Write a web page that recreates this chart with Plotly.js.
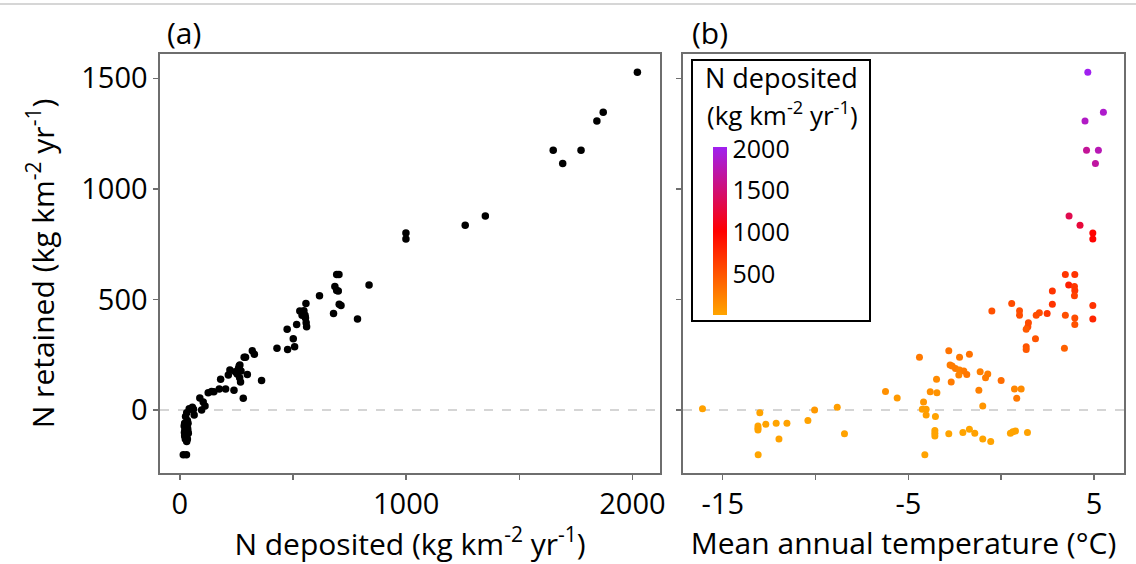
<!DOCTYPE html>
<html>
<head>
<meta charset="utf-8">
<script src="https://cdn.plot.ly/plotly-3.0.1.min.js"></script>
<style>html,body{margin:0;padding:0;background:#fff;}#chart{width:1136px;height:564px;}</style>
</head>
<body>
<div id="chart"></div>
<script>
// N deposited (kg km-2 yr-1), one value per site
const nDeposited = [2022,1871,1843,1650,1773,1692,1350,1261,999,999,
  693,703,836,685,693,700,617,557,704,712,548,530,545,679,550,553,540,555,785,558,516,560,474,501,507,429,476,
  320,329,284,290,265,262,259,221,270,245,253,298,214,264,180,361,268,202,174,239,140,150,125,88,280,103,111,55,41,50,60,96,
  30,63,25,33,21,36,28,19,34,24,31,22,35,27,20,32,26,37,23,29,34,21,33,24,30,15,29];
// N retained (kg km-2 yr-1)
const nRetained = [1527,1347,1307,1175,1175,1115,877,835,800,773,
  613,613,565,558,540,538,517,482,478,472,449,448,440,436,429,428,428,416,411,395,387,377,365,322,286,279,274,
  268,252,238,238,203,199,188,181,176,173,163,161,158,146,139,133,127,95,95,89,84,83,78,54,53,36,18,12,6,3,3,0,
  -12,-23,-30,-47,-60,-60,-65,-72,-83,-87,-90,-93,-95,-98,-102,-102,-105,-105,-105,-108,-108,-118,-131,-131,-143,-203,-203];
// Mean annual temperature (°C)
const meanTemp = [4.67,5.51,4.52,4.60,5.24,5.08,3.66,4.25,4.94,4.94,
  3.46,3.97,3.64,3.95,3.97,2.76,3.95,0.57,2.76,4.94,0.99,-0.50,2.06,2.48,0.99,1.89,3.46,3.97,4.94,1.47,3.97,1.44,1.35,1.85,1.35,3.41,1.35,
  -2.82,-1.71,-4.40,-2.24,-2.75,-2.64,-2.46,-2.24,-2.01,-1.13,-0.72,-1.85,-2.28,-0.84,-3.48,0.0,-2.69,0.72,1.08,-1.20,-6.23,-3.82,-3.46,-5.60,0.84,-4.18,-0.99,-8.83,-16.09,-4.25,-4.04,-10.05,
  -13.0,-4.04,-3.54,-10.41,-12.12,-11.54,-12.68,-13.1,-13.1,-1.71,-13.1,-3.57,0.77,0.63,-2.06,1.42,-3.57,-1.42,0.50,-2.82,-8.44,-3.57,-11.97,-0.99,-0.56,-13.09,-4.11];

const xTicksA = [0,500,1000,1500,2000];
const xTickTextA = ['0','','1000','','2000'];
const xTicksB = [-15,-10,-5,0,5];
const xTickTextB = ['-15','','-5','','5'];
const yTicks = [0,500,1000,1500];
const cbTicks = [500,1000,1500,2000];

const FONT = 'Open Sans, Lato, sans-serif';
const frame = '#6e6e6e';

const traces = [
  {
    type:'scatter', mode:'markers', x:nDeposited, y:nRetained, xaxis:'x', yaxis:'y',
    marker:{color:'#000', size:7.5}, hoverinfo:'x+y', showlegend:false
  },
  {
    type:'scatter', mode:'markers', x:meanTemp, y:nRetained, xaxis:'x2', yaxis:'y2',
    marker:{
      color:nDeposited, size:7, cmin:15, cmax:2022,
      colorscale:[[0,'#FFA500'],[0.5,'#FF0000'],[1,'#A020F0']],
      showscale:true,
      colorbar:{
        x:(713-160)/964, xanchor:'left', xpad:0,
        y:(473-147)/419, yanchor:'top', ypad:0,
        len:168, lenmode:'pixels', thickness:14,
        outlinewidth:0, borderwidth:0,
        tickvals:cbTicks, ticks:'', ticklen:0,
        tickfont:{family:FONT, size:25, color:'#000'}
      }
    },
    hoverinfo:'x+y', showlegend:false
  }
];

const axisCommon = {
  showgrid:false, zeroline:false, showline:true, mirror:true,
  linecolor:frame, linewidth:1.6, ticks:'outside', ticklen:5, tickwidth:1.4,
  tickcolor:frame, tickfont:{family:FONT, size:29, color:'#000'}
};

const layout = {
  width:1136, height:564,
  margin:{l:160, r:12, t:54, b:91},
  paper_bgcolor:'#fff', plot_bgcolor:'#fff',
  font:{family:FONT, color:'#000'},
  xaxis:Object.assign({}, axisCommon, {
    domain:[0, 500/964], range:[-88, 2122], tickvals:xTicksA, ticktext:xTickTextA,
    title:{text:'N deposited (kg km<sup>-2</sup> yr<sup>-1</sup>)', font:{family:FONT, size:30, color:'#000'}, standoff:10}
  }),
  yaxis:Object.assign({}, axisCommon, {
    domain:[0,1], range:[-285, 1610], tickvals:yTicks,
    title:{text:'N retained (kg km<sup>-2</sup> yr<sup>-1</sup>)', font:{family:FONT, size:30, color:'#000'}, standoff:18}
  }),
  xaxis2:Object.assign({}, axisCommon, {
    domain:[523/964, 1], range:[-17.14, 6.62], tickvals:xTicksB, ticktext:xTickTextB, anchor:'y2',
    title:{text:'Mean annual temperature (°C)', font:{family:FONT, size:30, color:'#000'}, standoff:10}
  }),
  yaxis2:Object.assign({}, axisCommon, {
    domain:[0,1], range:[-285, 1610], tickvals:yTicks, showticklabels:false, anchor:'x2'
  }),
  shapes:[
    {type:'line', xref:'x domain', yref:'y', x0:0, x1:1, y0:0, y1:0, line:{color:'#c8c8c8', width:1.5, dash:'dash'}, layer:'below'},
    {type:'line', xref:'x2 domain', yref:'y2', x0:0, x1:1, y0:0, y1:0, line:{color:'#c8c8c8', width:1.5, dash:'dash'}, layer:'below'},
    {type:'rect', xref:'paper', yref:'paper', x0:(692-160)/964, x1:(870-160)/964, y0:(473-321)/419, y1:(473-60)/419, line:{color:'#000', width:2}},
    {type:'line', xref:'paper', yref:'paper', x0:-160/964, x1:1+12/964, y0:(473-4)/419, y1:(473-4)/419, line:{color:'#c8c8c8', width:1.5}}
  ],
  annotations:[
    {text:'(a)', xref:'paper', yref:'paper', x:(165-160)/964, y:(473-33)/419, xanchor:'left', yanchor:'middle', showarrow:false, font:{family:FONT, size:30, color:'#000'}},
    {text:'(b)', xref:'paper', yref:'paper', x:(690-160)/964, y:(473-33)/419, xanchor:'left', yanchor:'middle', showarrow:false, font:{family:FONT, size:30, color:'#000'}},
    {text:'N deposited', xref:'paper', yref:'paper', x:(781-160)/964, y:(473-77)/419, xanchor:'center', yanchor:'middle', showarrow:false, font:{family:FONT, size:27, color:'#000'}},
    {text:'(kg km<sup>-2</sup> yr<sup>-1</sup>)', xref:'paper', yref:'paper', x:(782-160)/964, y:(473-114)/419, xanchor:'center', yanchor:'middle', showarrow:false, font:{family:FONT, size:26, color:'#000'}}
  ]
};

Plotly.newPlot('chart', traces, layout, {displayModeBar:false, staticPlot:true});
</script>
</body>
</html>
